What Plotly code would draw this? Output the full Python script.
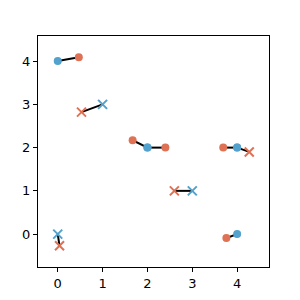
import plotly.graph_objects as go

# Data: each row pairs a blue point with an orange point
blue_x = [0, 1, 2, 2, 3, 4, 4, 4, 0]
blue_y = [4, 3, 2, 2, 1, 2, 2, 0, 0]
blue_sym = ["circle", "x", "circle", "circle", "x", "circle", "circle", "circle", "x"]
orange_x = [0.47, 0.53, 1.67, 2.40, 2.60, 3.69, 4.27, 3.76, 0.04]
orange_y = [4.09, 2.82, 2.17, 2.00, 1.00, 2.00, 1.90, -0.09, -0.27]
orange_sym = ["circle", "x", "circle", "circle", "x", "circle", "x", "circle", "x"]

BLUE = "#52a2cd"
ORANGE = "#df7154"

lx, ly = [], []
for bx, by, ox, oy in zip(blue_x, blue_y, orange_x, orange_y):
    lx += [bx, ox, None]
    ly += [by, oy, None]

fig = go.Figure()
fig.add_trace(go.Scatter(x=lx, y=ly, mode="lines",
                         line=dict(color="black", width=2), hoverinfo="skip"))

def marker_traces(xs, ys, syms, color):
    for sym in ("circle", "x"):
        px = [x for x, s in zip(xs, syms) if s == sym]
        py = [y for y, s in zip(ys, syms) if s == sym]
        if sym == "circle":
            m = dict(symbol="circle", size=8, color=color, line=dict(width=0))
        else:
            m = dict(symbol="x-thin", size=9, color=color, line=dict(width=2, color=color))
        fig.add_trace(go.Scatter(x=px, y=py, mode="markers", marker=m))

marker_traces(orange_x, orange_y, orange_sym, ORANGE)
marker_traces(blue_x, blue_y, blue_sym, BLUE)

axis_common = dict(showgrid=False, zeroline=False, showline=True, linecolor="black",
                   linewidth=1, mirror=True, ticks="outside", ticklen=4, tickwidth=1,
                   tickcolor="black", tickfont=dict(family="DejaVu Sans", size=13, color="black"),
                   dtick=1, automargin=False)
fig.update_layout(
    width=300, height=300,
    margin=dict(l=38, r=31, t=36, b=33, autoexpand=False),
    paper_bgcolor="white", plot_bgcolor="white",
    showlegend=False,
    xaxis=dict(range=[-0.44, 4.71], **axis_common),
    yaxis=dict(range=[-0.76, 4.58], **axis_common),
)
fig.write_html("out.html", config={"displayModeBar": False},
               post_script="document.body.style.margin='0';document.body.style.overflow='hidden';")
